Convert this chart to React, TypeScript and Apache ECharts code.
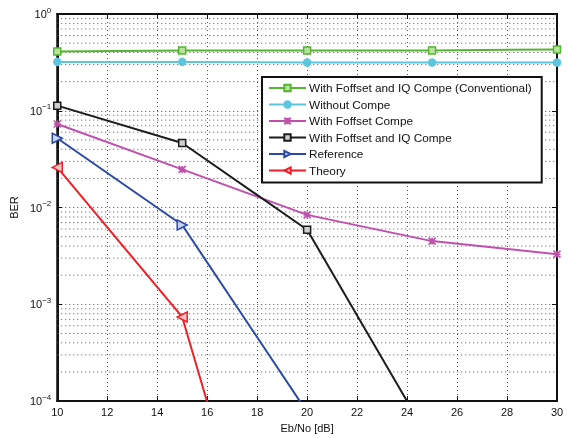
import React, { useEffect, useRef } from "react";
import * as echarts from "echarts";

const snr = [10, 15, 20, 25, 30];
const conventional = [0.41, 0.42, 0.42, 0.42, 0.43];
const withoutCompe = [0.32, 0.32, 0.315, 0.315, 0.315];
const foffsetCompe = [0.073, 0.0248, 0.0084, 0.0045, 0.0033];
const foffsetIQ = [0.113, 0.0465, 0.0059, 0.000036, null];
const reference = [0.052, 0.0066, 0.000077, null, null];
const theory = [0.026, 0.00074, 0.00000003, null, null];

const xMin = 10;
const xMax = 30;
const yMin = 1e-4;
const yMax = 1;

const FONT = "Liberation Sans, Arial, sans-serif";
const GRID_STYLE = { color: "#555", type: [1, 3], width: 1 };

function minorGrid(): number[] {
  const out: number[] = [];
  for (let e = -4; e < 0; e++) {
    for (let m = 2; m <= 9; m++) out.push(m * Math.pow(10, e));
  }
  return out;
}

export default function App() {
  const ref = useRef<HTMLDivElement>(null);
  useEffect(() => {
    if (!ref.current) return;
    const chart = echarts.init(ref.current, undefined, { renderer: "svg" });
    const pairs = (ys: (number | null)[]) => snr.map((x, i) => [x, ys[i]]).filter((p) => p[1] !== null);
    const mk = (name: string, data: (number | null)[], color: string, symbol: string, fill: string, size = 9) => ({
      name,
      type: "line",
      data: pairs(data),
      symbol,
      symbolSize: size,
      clip: true,
      lineStyle: { color, width: 2 },
      itemStyle: { color: fill, borderColor: color, borderWidth: 1.5 },
      z: 3,
    });
    const gridSeries = minorGrid().map((v) => ({
      name: "grid" + v,
      type: "line",
      data: [
        [xMin, v],
        [xMax, v],
      ],
      symbol: "none",
      silent: true,
      lineStyle: GRID_STYLE,
      z: 1,
    }));
    const option: any = {
      animation: false,
      textStyle: { fontFamily: FONT },
      grid: {
        left: 57,
        top: 14,
        right: 23,
        bottom: 33,
        show: true,
        borderColor: "#111",
        borderWidth: 2,
        backgroundColor: "#fff",
      },
      legend: {
        orient: "vertical",
        left: 262,
        top: 77,
        width: 279,
        padding: [5, 10, 6, 6],
        backgroundColor: "#fff",
        borderColor: "#111",
        borderWidth: 2,
        itemWidth: 37,
        itemHeight: 8,
        itemGap: 4.5,
        textStyle: { fontFamily: FONT, fontSize: 11.8, color: "#111", padding: [0, 0, 0, -2] },
        data: [
          "With Foffset and IQ Compe (Conventional)",
          "Without Compe",
          "With Foffset Compe",
          "With Foffset and IQ Compe",
          "Reference",
          "Theory",
        ],
        z: 10,
      },
      xAxis: [
        {
          type: "value",
          min: xMin,
          max: xMax,
          interval: 2,
          name: "Eb/No [dB]",
          nameLocation: "middle",
          nameGap: 20,
          nameTextStyle: { fontFamily: FONT, fontSize: 11, color: "#111" },
          axisLine: { show: true, lineStyle: { color: "#111", width: 2 } },
          axisTick: { show: true, inside: true, length: 5, lineStyle: { color: "#111" } },
          axisLabel: { fontFamily: FONT, fontSize: 11, color: "#111", margin: 5 },
          splitLine: { show: true, lineStyle: GRID_STYLE },
        },
        {
          type: "value",
          position: "top",
          min: xMin,
          max: xMax,
          interval: 2,
          axisLine: { show: true, lineStyle: { color: "#111", width: 2 } },
          axisTick: { show: true, inside: true, length: 5, lineStyle: { color: "#111" } },
          axisLabel: { show: false },
          splitLine: { show: false },
        },
      ],
      yAxis: [
        {
          type: "log",
          logBase: 10,
          min: yMin,
          max: yMax,
          name: "BER",
          nameLocation: "middle",
          nameGap: 36,
          nameTextStyle: { fontFamily: FONT, fontSize: 11, color: "#111" },
          axisLine: { show: true, lineStyle: { color: "#111", width: 2 } },
          axisTick: { show: true, inside: true, length: 5, lineStyle: { color: "#111" } },
          axisLabel: {
            margin: 6,
            formatter: (v: number) => {
              const e = Math.round(Math.log10(v));
              return "{b|10}{s|" + (e === 0 ? "0" : "\u2212" + Math.abs(e)) + "}";
            },
            rich: {
              b: { fontFamily: FONT, fontSize: 11, color: "#111" },
              s: { fontFamily: FONT, fontSize: 8, color: "#111", padding: [0, 0, 8, 0] },
            },
          },
          splitLine: { show: true, lineStyle: GRID_STYLE },
        },
        {
          type: "log",
          logBase: 10,
          min: yMin,
          max: yMax,
          position: "right",
          axisLine: { show: true, lineStyle: { color: "#111", width: 2 } },
          axisTick: { show: true, inside: true, length: 5, lineStyle: { color: "#111" } },
          axisLabel: { show: false },
          splitLine: { show: false },
        },
      ],
      series: [
        ...gridSeries,
        mk("With Foffset and IQ Compe (Conventional)", conventional, "#55b531", "rect", "#b9e29f", 7),
        mk("Without Compe", withoutCompe, "#5cc6de", "circle", "#5cc6de", 7),
        mk(
          "With Foffset Compe",
          foffsetCompe,
          "#c04fae",
          "path://M0,0L10,10M10,0L0,10M5,0L5,10M0,5L10,5",
          "#c04fae",
          7
        ),
        mk("With Foffset and IQ Compe", foffsetIQ, "#1c1c1c", "rect", "#cfcfcf", 7),
        mk("Reference", reference, "#2a4aa2", "path://M0,0L10,5L0,10Z", "#c9d2ef", 10),
        mk("Theory", theory, "#ee1f27", "path://M10,0L0,5L10,10Z", "#f8c6c6", 10),
      ],
    };
    chart.setOption(option);
    return () => chart.dispose();
  }, []);
  return <div ref={ref} style={{ position: "fixed", left: 0, top: 0, width: 580, height: 438 }} />;
}
